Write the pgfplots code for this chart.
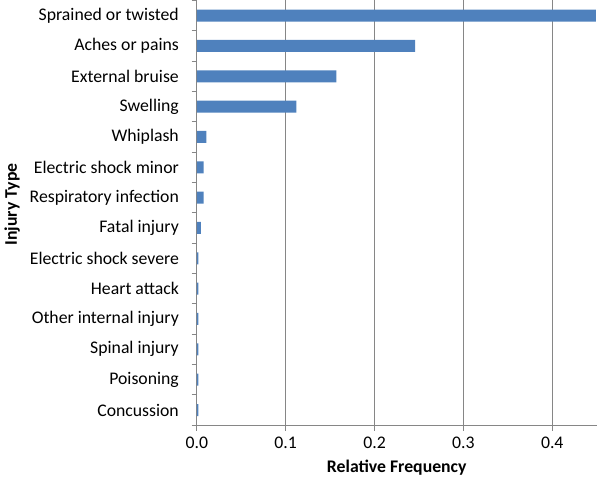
\documentclass[border=0pt]{standalone}
\usepackage{pgfplots}
\pgfplotsset{compat=1.18}
\usepackage{fontspec}
\setmainfont{Carlito}
\definecolor{barblue}{HTML}{4F81BD}
\definecolor{axgray}{HTML}{868686}
\begin{document}
\begin{tikzpicture}
\begin{axis}[
  at={(0,0)}, anchor=south west,
  scale only axis,
  width=300pt, height=318.75pt,
  xbar, bar width=9pt,
  xmin=0, xmax=0.45,
  ymin=-0.5, ymax=13.5,
  axis x line=bottom, axis y line=left,
  axis line style={draw=axgray, line width=0.6pt, -},
  xtick={0,0.1,0.2,0.3,0.4},
  xticklabel style={/pgf/number format/fixed, /pgf/number format/fixed zerofill, /pgf/number format/precision=1, font=\fontsize{13.3}{15}\selectfont, yshift=-1pt},
  /pgf/number format/assume math mode=true,
  xmajorgrids, major grid style={draw=axgray, line width=0.6pt},
  x tick style={draw=axgray, line width=0.6pt},
  tick align=outside, major tick length=4pt,
  ytick={0,...,13},
  yticklabels={Concussion, Poisoning, Spinal injury, Other internal injury, Heart attack, Electric shock severe, Fatal injury, Respiratory infection, Electric shock minor, Whiplash, Swelling, External bruise, Aches or pains, Sprained or twisted},
  yticklabel style={font=\fontsize{13.3}{15}\selectfont, xshift=-6pt},
  y tick style={draw=none},
  minor ytick={-0.5,0.5,...,13.5},
  minor tick length=4pt,
  minor y tick style={draw=axgray, line width=0.6pt},
  xlabel={Relative Frequency},
  ylabel={Injury Type},
  xlabel style={font=\fontsize{13.3}{15}\selectfont\bfseries, at={(axis description cs:0.5,-0.099)}, anchor=center},
  ylabel style={font=\fontsize{13.3}{15}\selectfont\bfseries, at={(axis description cs:-0.462,0.52)}, anchor=center, rotate=0},
  clip=false,
]
\addplot[fill=barblue, draw=none] coordinates {
  (0.0018,0) (0.0018,1) (0.0018,2) (0.0018,3) (0.0018,4) (0.0018,5)
  (0.0045,6) (0.0075,7) (0.0075,8) (0.0108,9) (0.112,10) (0.157,11)
  (0.2457,12) (0.449,13)
};
\end{axis}
\path[use as bounding box] (-147.5pt,-42.75pt) rectangle (302.5pt,318.75pt);
\end{tikzpicture}
\end{document}
